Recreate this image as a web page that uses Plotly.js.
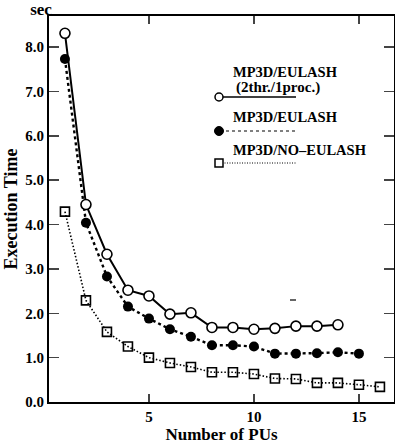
<!DOCTYPE html>
<html><head><meta charset="utf-8">
<script src="https://cdn.plot.ly/plotly-3.0.1.min.js"></script>
<style>html,body{margin:0;padding:0;background:#fff}#c{width:395px;height:446px}</style>
</head><body><div id="c"></div>
<script>
const pus1 = [1,2,3,4,5,6,7,8,9,10,11,12,13,14];
const eulash2thr = [8.31,4.45,3.33,2.52,2.39,1.98,2.01,1.68,1.68,1.64,1.66,1.71,1.71,1.74];
const pus2 = [1,2,3,4,5,6,7,8,9,10,11,12,13,14,15];
const eulash = [7.73,4.04,2.83,2.15,1.88,1.64,1.47,1.28,1.28,1.25,1.09,1.09,1.10,1.12,1.09];
const pus3 = [1,2,3,4,5,6,7,8,9,10,11,12,13,14,15,16];
const noEulash = [4.29,2.29,1.58,1.25,1.00,0.88,0.79,0.67,0.67,0.63,0.53,0.52,0.43,0.43,0.39,0.34];
const seriesNames = ['MP3D/EULASH (2thr./1proc.)','MP3D/EULASH','MP3D/NO\u2013EULASH'];
const xTicks = [5,10,15];
const yTicks = [0,1,2,3,4,5,6,7,8];

const FONT = 'Liberation Serif, Times New Roman, serif';
const traces = [
  {x:pus3, y:noEulash, mode:'lines+markers', name:seriesNames[2],
   line:{color:'#000', width:1.6, dash:'1.5px,2px'},
   marker:{symbol:'square-open', size:9, color:'#000', line:{width:1.6, color:'#000'}}},
  {x:pus2, y:eulash, mode:'lines+markers', name:seriesNames[1],
   line:{color:'#000', width:2.4, dash:'3px,3px'},
   marker:{symbol:'circle', size:10, color:'#000'}},
  {x:pus1, y:eulash2thr, mode:'lines+markers', name:seriesNames[0],
   line:{color:'#000', width:2},
   marker:{symbol:'circle', size:10, color:'#fff', line:{width:1.6, color:'#000'}}}
];

const W=395, H=446, mL=49, mR=1, mT=16, mB=44;
const pw=W-mL-mR, ph=H-mT-mB;
const px = v => (v-mL)/pw;
const py = v => 1-(v-mT)/ph;
const shapes = [
  {type:'line', xref:'paper', yref:'paper', x0:px(220), x1:px(296), y0:py(97), y1:py(97), line:{color:'#000', width:1.5}},
  {type:'line', xref:'paper', yref:'paper', x0:px(220), x1:px(296), y0:py(131), y1:py(131), line:{color:'#000', width:1, dash:'3px,3px'}},
  {type:'line', xref:'paper', yref:'paper', x0:px(222), x1:px(296), y0:py(163), y1:py(163), line:{color:'#000', width:1, dash:'1px,1.5px'}},
  {type:'line', xref:'paper', yref:'paper', x0:px(290), x1:px(296), y0:py(300), y1:py(300), line:{color:'#000', width:1.2}},
  {type:'circle', xref:'paper', yref:'paper', xsizemode:'pixel', ysizemode:'pixel', xanchor:px(219), yanchor:py(97), x0:-4, x1:4, y0:-4, y1:4, fillcolor:'#fff', line:{color:'#000', width:1.5}},
  {type:'circle', xref:'paper', yref:'paper', xsizemode:'pixel', ysizemode:'pixel', xanchor:px(219), yanchor:py(131), x0:-4.5, x1:4.5, y0:-4.5, y1:4.5, fillcolor:'#000', line:{color:'#000', width:1}},
  {type:'rect', xref:'paper', yref:'paper', xsizemode:'pixel', ysizemode:'pixel', xanchor:px(219), yanchor:py(163), x0:-4, x1:4, y0:-4, y1:4, fillcolor:'#fff', line:{color:'#000', width:1.5}}
];
const ann = (t, x, y, size, xa) => ({text:t, xref:'paper', yref:'paper', x:px(x), y:py(y), xanchor:xa, yanchor:'middle', showarrow:false, font:{family:FONT, size:size, color:'#000'}});
const annotations = [
  ann('<b>MP3D/EULASH</b>', 231, 72, 14.5, 'left'),
  ann('<b>(2thr./1proc.)</b>', 234, 87, 15, 'left'),
  ann('<b>MP3D/EULASH</b>', 231, 117, 14.5, 'left'),
  ann('<b>MP3D/NO\u2013EULASH</b>', 231, 150, 14.5, 'left')
];

const layout = {
  width:W, height:H, margin:{l:mL, r:mR, t:mT, b:mB},
  paper_bgcolor:'#fff', plot_bgcolor:'#fff', showlegend:false,
  font:{family:FONT, color:'#000'},
  title:{text:'<b>sec</b>', xref:'container', yref:'container', x:41/W, y:1-9/H, xanchor:'center', yanchor:'middle',
    font:{family:FONT, size:17, color:'#000'}},
  xaxis:{range:[0.24,16.67], tickvals:xTicks, ticks:'inside', ticklen:8, tickwidth:1.5,
    showline:true, linewidth:2, linecolor:'#000', mirror:'ticks', showgrid:false, zeroline:false,
    tickfont:{family:FONT, size:15, weight:'bold', color:'#000'},
    title:{text:'<b>Number of PUs</b>', font:{family:FONT, size:17, color:'#000'}, standoff:2}},
  yaxis:{range:[0,8.7], tickvals:yTicks, tickformat:'.1f', ticks:'inside', ticklen:10, tickwidth:1.5,
    showline:true, linewidth:2, linecolor:'#000', mirror:'ticks', showgrid:false, zeroline:false,
    tickfont:{family:FONT, size:15, weight:'bold', color:'#000'},
    title:{text:'<b>Execution Time</b>', font:{family:FONT, size:18, color:'#000'}, standoff:3}},
  shapes:shapes, annotations:annotations
};
Plotly.newPlot('c', traces, layout, {displayModeBar:false, staticPlot:true});
</script></body></html>
